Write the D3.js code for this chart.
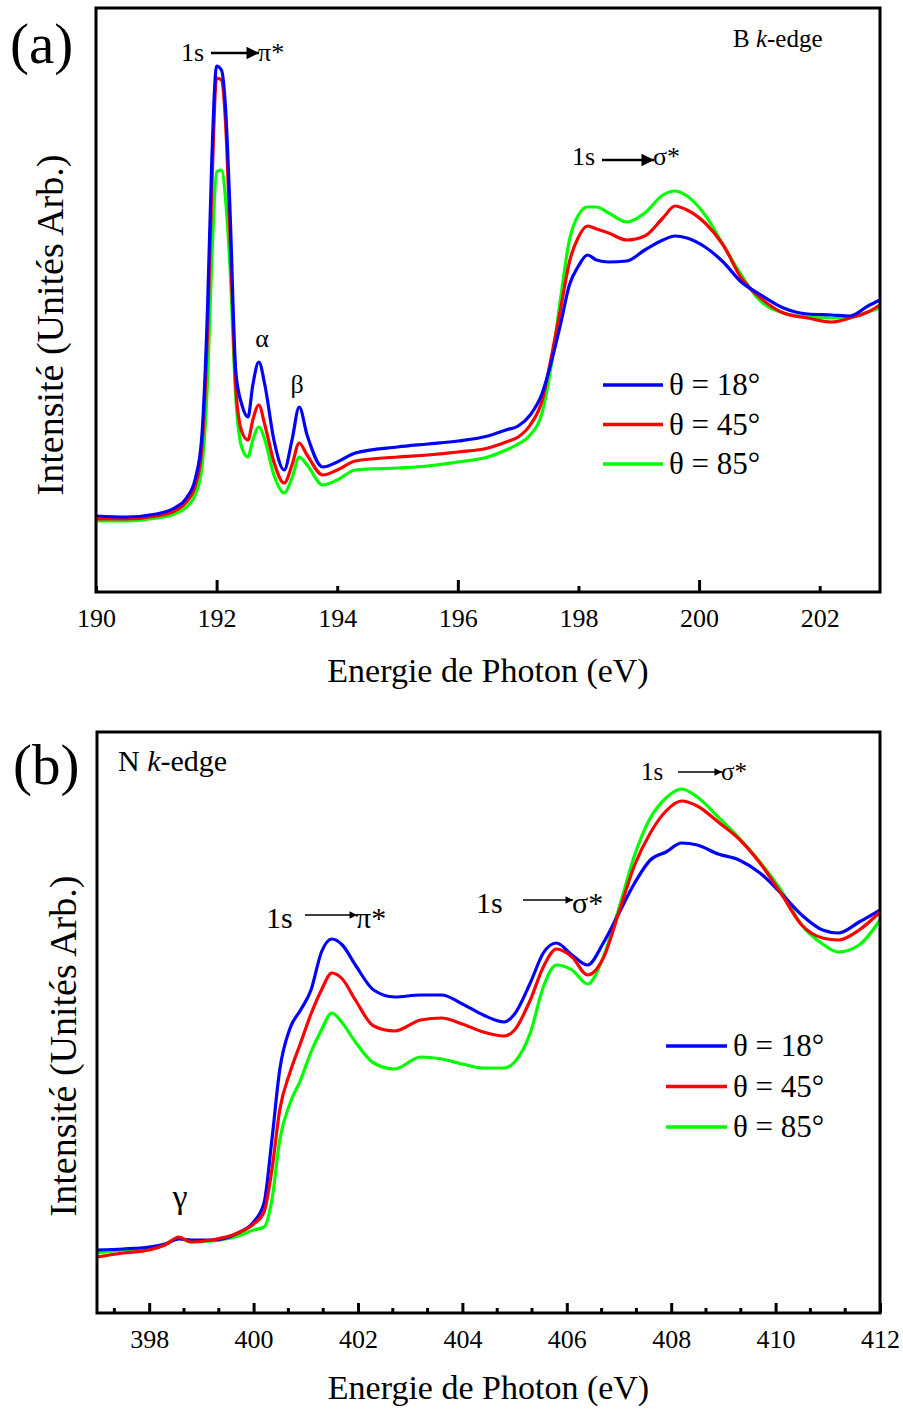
<!DOCTYPE html>
<html>
<head>
<meta charset="utf-8">
<script src="https://cdn.jsdelivr.net/npm/d3@7"></script>
<style>
  body { margin: 0; background: #fff; }
  svg text { font-family: "Liberation Serif", "Times New Roman", serif; fill: #000; }
</style>
</head>
<body>
<svg id="chart" width="903" height="1410"></svg>
<script>
// ---- data (arbitrary intensity units) ----
var seriesNames = ["θ = 18°", "θ = 45°", "θ = 85°"];
var seriesColors = ["#0000ff", "#ff0000", "#00ff00"];

// (a) B k-edge
var energyA = [190.0,190.5,191.0,191.3,191.5,191.65,191.75,191.85,191.92,192.0,
  192.08,192.15,192.22,192.32,192.42,192.52,192.6,192.7,192.8,192.95,
  193.12,193.25,193.37,193.5,193.76,194.0,194.3,195.0,195.5,196.0,
  196.5,196.8,197.0,197.2,197.4,197.55,197.7,197.85,198.0,198.15,
  198.3,198.5,198.8,199.1,199.4,199.6,199.8,200.1,200.4,200.7,
  201.0,201.4,201.8,202.2,202.5,202.8,203.0];
var blueA = [76,75,78,84,94,114,152,285,432,526,
  522,482,385,219,187,175,207,230,207,152,
  122,152,185,157,125,130,139,145,148,151,
  156,162,166,177,199,230,267,307,326,337,
  332,330,331,342,352,356,354,345,330,310,
  298,284,278,277,276,286,292];
var redA = [73,73,76,81,90,107,140,262,402,514,
  512,467,362,202,160,152,172,187,167,130,
  109,127,149,137,117,122,131,135,137,140,
  144,150,155,167,192,235,282,330,355,366,
  363,359,352,356,374,386,382,369,347,314,
  295,279,274,270,274,280,287];
var greenA = [71,71,74,78,85,98,122,212,332,420,
  422,392,327,192,144,135,152,165,152,117,
  99,114,135,127,107,112,122,124,126,130,
  135,142,148,157,180,227,292,352,377,385,
  385,379,370,379,397,401,396,377,347,317,
  292,279,275,274,275,280,284];
var ticksA = [190,192,194,196,198,200,202];
var majorA = [192,196,200];

// (b) N k-edge
var energyB = [397.0,397.5,398.0,398.3,398.57,398.8,399.2,399.7,400.0,400.2,
  400.35,400.5,400.7,400.9,401.1,401.3,401.5,401.7,401.95,402.3,
  402.7,403.2,403.6,404.0,404.4,404.8,405.0,405.3,405.55,405.8,
  406.1,406.4,406.7,407.0,407.3,407.6,407.9,408.2,408.5,408.9,
  409.3,409.7,410.1,410.5,410.9,411.2,411.6,412.0];
var blueB = [63,64,66,69,74,73,73,80,91,110,
  173,243,285,303,323,361,374,368,348,323,
  316,318,318,309,298,291,299,330,360,370,
  358,348,370,400,430,453,461,470,468,459,
  453,440,420,398,383,380,391,403];
var redB = [56,60,63,68,76,71,73,80,89,101,
  143,203,241,270,299,323,340,334,313,287,
  282,293,295,289,281,277,283,313,346,364,
  356,338,355,401,448,480,502,512,507,491,
  474,450,420,388,375,373,383,401];
var greenB = [60,63,65,68,75,71,72,77,83,86,
  113,173,210,233,261,283,300,290,271,250,
  244,256,254,249,245,245,251,280,326,348,
  343,329,356,405,458,495,515,524,516,496,
  475,451,423,388,369,361,368,393];
var ticksB = [398,400,402,404,406,408,410,412];

var svg = d3.select("#chart");

// arrow head for the 1s -> pi*/sigma* notes
svg.append("defs").append("marker")
    .attr("id", "arr")
    .attr("viewBox", "0 0 10 10")
    .attr("refX", 10).attr("refY", 5)
    .attr("markerWidth", 7).attr("markerHeight", 5)
    .attr("markerUnits", "strokeWidth")
    .attr("orient", "auto")
  .append("path").attr("d", "M0,0 L10,5 L0,10 Z").attr("fill", "#000");

var drawPanel = function(p)
{
    var xScale = d3.scaleLinear().domain(p.xDomain).range([p.left, p.right]);
    var yScale = d3.scaleLinear().domain(p.yDomain).range([p.bottom, p.top]);

    var g = svg.append("g");

    // curves
    var line = d3.line()
        .x(function(d){return xScale(d[0])})
        .y(function(d){return yScale(d[1])})
        .curve(d3.curveMonotoneX);

    p.order.forEach(function(i){
        var pts = p.energy.map(function(e, j){return [e, p.series[i][j]]});
        g.append("path")
            .datum(pts)
            .attr("d", line)
            .attr("fill", "none")
            .attr("stroke", seriesColors[i])
            .attr("stroke-width", 3.2)
            .attr("stroke-linejoin", "round");
    });

    // bottom axis, ticks pointing inside
    var xAxis = d3.axisBottom(xScale)
        .tickValues(p.ticks)
        .tickSizeInner(-p.majorLen)
        .tickSizeOuter(0)
        .tickPadding(17)
        .tickFormat(d3.format("d"));
    var ax = g.append("g")
        .attr("transform", "translate(0," + p.bottom + ")")
        .call(xAxis);
    ax.select(".domain").remove();
    ax.selectAll(".tick line")
        .attr("stroke", "#000").attr("stroke-width", 3)
        .attr("y2", function(d){return p.isMajor(d) ? -p.majorLen : -p.minorLen});
    ax.selectAll(".tick text")
        .style("font-size", p.tickFont + "px")
        .style("font-family", "'Liberation Serif', serif");
    if (p.minor) {
        g.append("g").selectAll("line")
            .data(p.minor)
            .enter().append("line")
            .attr("x1", function(d){return xScale(d)})
            .attr("x2", function(d){return xScale(d)})
            .attr("y1", p.bottom)
            .attr("y2", p.bottom - p.minorLen)
            .attr("stroke", "#000").attr("stroke-width", 3);
    }

    // frame
    g.append("rect")
        .attr("x", p.left).attr("y", p.top)
        .attr("width", p.right - p.left).attr("height", p.bottom - p.top)
        .attr("fill", "none").attr("stroke", "#000").attr("stroke-width", 3);

    // axis titles
    g.append("text")
        .attr("x", (p.left + p.right) / 2).attr("y", p.xTitleY)
        .attr("text-anchor", "middle")
        .style("font-size", "34px")
        .text("Energie de Photon (eV)");
    g.append("text")
        .attr("transform", "translate(" + p.yTitleX + "," + p.yTitleCY + ") rotate(-90)")
        .attr("text-anchor", "middle")
        .style("font-size", "38px")
        .text("Intensité (Unités Arb.)");

    // panel letter
    g.append("text")
        .attr("x", p.letter[0]).attr("y", p.letter[1])
        .style("font-size", "57px")
        .text(p.letter[2]);

    // edge name
    var en = g.append("text")
        .attr("x", p.edge[0]).attr("y", p.edge[1])
        .style("font-size", p.edge[3] + "px");
    en.append("tspan").text(p.edge[2] + " ");
    en.append("tspan").style("font-style", "italic").text("k");
    en.append("tspan").text("-edge");

    // transitions with arrows
    p.notes.forEach(function(n){
        g.append("text").attr("x", n.x).attr("y", n.y)
            .style("font-size", n.size + "px").text("1s");
        g.append("line")
            .attr("x1", n.a1).attr("x2", n.a2)
            .attr("y1", n.ay).attr("y2", n.ay)
            .attr("stroke", "#000").attr("stroke-width", n.w)
            .attr("marker-end", "url(#arr)");
        g.append("text").attr("x", n.a2 - 1).attr("y", n.y)
            .style("font-size", n.size + "px").text(n.to);
    });

    // greek peak labels
    p.greek.forEach(function(k){
        g.append("text").attr("x", k[0]).attr("y", k[1])
            .attr("text-anchor", "middle")
            .style("font-size", k[3] + "px").text(k[2]);
    });

    // legend
    var lg = g.append("g").selectAll("g")
        .data(seriesNames)
        .enter().append("g")
        .attr("transform", function(d, i){return "translate(" + p.legend[0] + "," + (p.legend[1] + i * p.legend[2]) + ")"});
    lg.append("line")
        .attr("x1", 0).attr("x2", p.legend[3])
        .attr("stroke", function(d, i){return seriesColors[i]})
        .attr("stroke-width", 3.5);
    lg.append("text")
        .attr("x", p.legend[3] + 6).attr("y", 10)
        .style("font-size", "31px")
        .text(function(d){return d});
}

drawPanel({
    top: 8, bottom: 592, left: 96, right: 880,
    xDomain: [190, 203], yDomain: [0, 584],
    energy: energyA, series: [blueA, redA, greenA], order: [2, 1, 0],
    ticks: ticksA, isMajor: function(d){return majorA.indexOf(d) >= 0},
    majorLen: 12, minorLen: 6, tickFont: 26,
    xTitleY: 682, yTitleX: 63, yTitleCY: 325,
    letter: [10, 63, "(a)"],
    edge: [733, 47, "B", 25],
    notes: [
        {x: 181, y: 61, size: 26, a1: 211, a2: 259, ay: 53, w: 2.5, to: "π*"},
        {x: 572, y: 165, size: 26, a1: 602, a2: 654, ay: 160, w: 2.5, to: "σ*"}
    ],
    greek: [[262, 347, "α", 26], [297, 393, "β", 26]],
    legend: [603, 385, 39.5, 60]
});

drawPanel({
    top: 732, bottom: 1313, left: 97, right: 880,
    xDomain: [397, 412], yDomain: [0, 581],
    energy: energyB, series: [blueB, redB, greenB], order: [2, 0, 1],
    ticks: ticksB, isMajor: function(d){return true},
    minor: d3.range(397 + 1/3, 412, 2/3).filter(function(v){return Math.abs(Math.round(v) - v) > 0.01}),
    majorLen: 10, minorLen: 5, tickFont: 26,
    xTitleY: 1399, yTitleX: 76, yTitleCY: 1046,
    letter: [13, 784, "(b)"],
    edge: [118, 771, "N", 30],
    notes: [
        {x: 266, y: 928, size: 30, a1: 305, a2: 357, ay: 915, w: 1.5, to: "π*"},
        {x: 476, y: 913, size: 30, a1: 523, a2: 573, ay: 900, w: 1.5, to: "σ*"},
        {x: 641, y: 780, size: 25, a1: 678, a2: 722, ay: 772, w: 1.5, to: "σ*"}
    ],
    greek: [[180, 1208, "γ", 34]],
    legend: [666, 1046, 40.5, 61]
});
</script>
</body>
</html>
